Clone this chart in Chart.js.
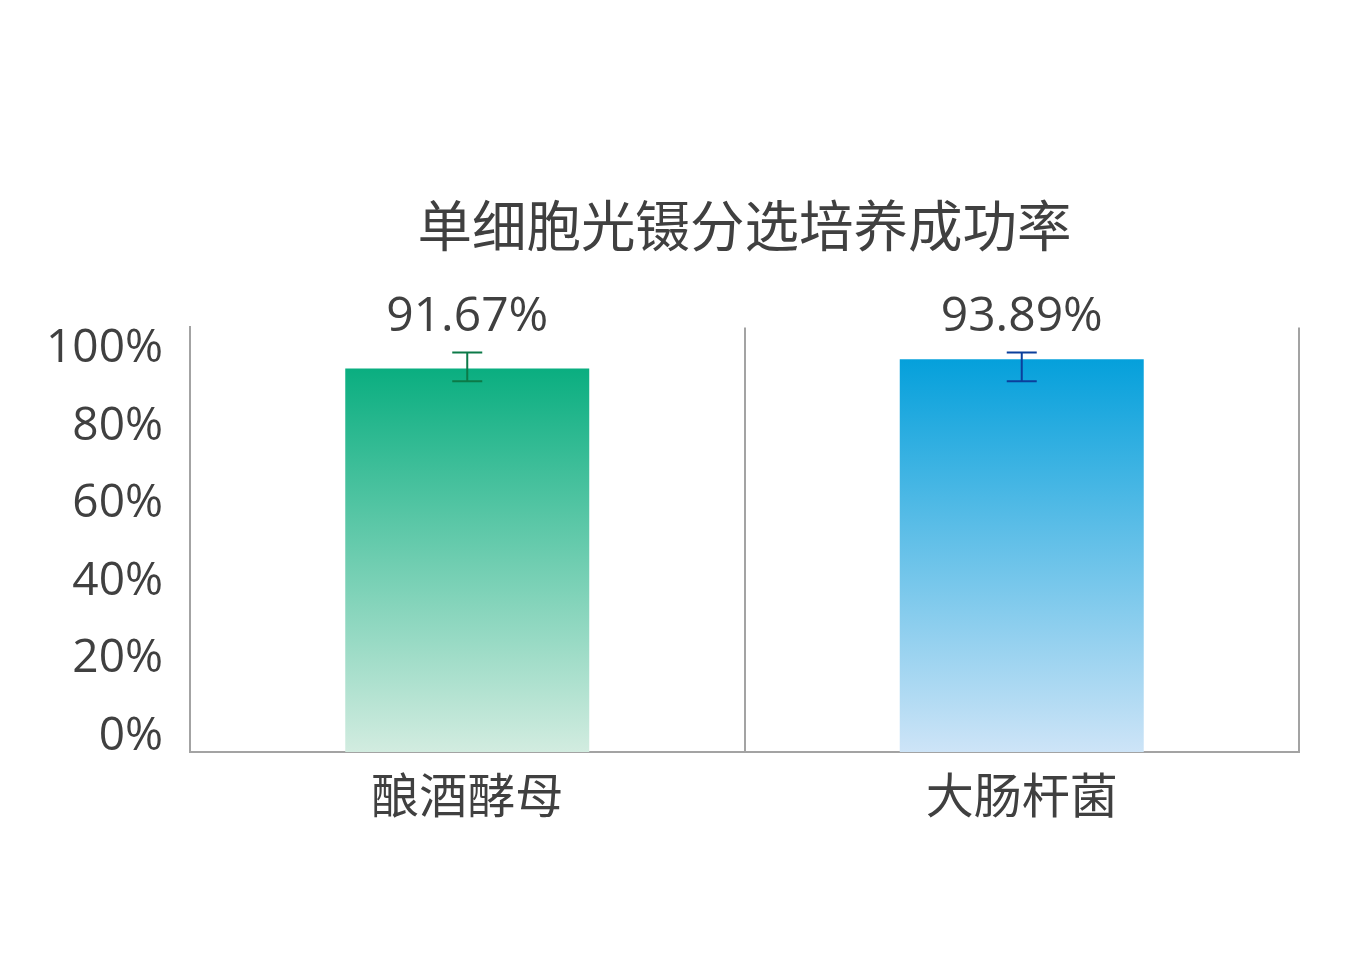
<!DOCTYPE html>
<html>
<head>
<meta charset="utf-8">
<script src="https://cdn.jsdelivr.net/npm/chart.js@4"></script>
<style>
    body { margin: 0; background: #fff; }
    #wrap { width: 1358px; height: 978px; }
</style>
</head>
<body>
<div id="wrap"><canvas id="successChart"></canvas></div>
<script>
const categories = ['酿酒酵母', '大肠杆菌'];
const successRates = [91.67, 93.89];
const errLow = [88.6, 88.6];
const errHigh = [95.5, 95.5];
const tickValues = [0, 20, 40, 60, 80, 100];

const topColors = ['#0aae80', '#05a0db'];
const bottomColors = ['#d2ece0', '#cde4f7'];
const errColors = ['#0c7a48', '#0b3f9c'];
const textColor = '#404040';
const axisColor = '#a3a3a3';
const fontFamily = "'Open Sans', 'Noto Sans CJK SC', sans-serif";

// gradient from the top of each bar down to the axis
function barGradient(ctx) {
    const chart = ctx.chart;
    const area = chart.chartArea;
    const i = ctx.dataIndex;
    if (!area || ctx.parsed == null) return topColors[i];
    const yTop = chart.scales.y.getPixelForValue(ctx.parsed.y);
    const g = chart.ctx.createLinearGradient(0, yTop, 0, area.bottom);
    g.addColorStop(0, topColors[i]);
    g.addColorStop(1, bottomColors[i]);
    return g;
}

const errorBars = {
    id: 'errorBars',
    afterDatasetsDraw(chart) {
        const c = chart.ctx;
        const yScale = chart.scales.y;
        const meta = chart.getDatasetMeta(0);
        meta.data.forEach((bar, i) => {
            const x = bar.x;
            const yLo = yScale.getPixelForValue(errLow[i]);
            const yHi = yScale.getPixelForValue(errHigh[i]);
            c.save();
            c.strokeStyle = errColors[i];
            c.lineWidth = 2;
            c.beginPath();
            c.moveTo(x, yLo); c.lineTo(x, yHi);
            c.moveTo(x - 15, yLo); c.lineTo(x + 15, yLo);
            c.moveTo(x - 15, yHi); c.lineTo(x + 15, yHi);
            c.stroke();

            c.fillStyle = textColor;
            c.font = '48px ' + fontFamily;
            c.textAlign = 'center';
            c.textBaseline = 'middle';
            c.fillText(successRates[i].toFixed(2) + '%', x, yHi - 35);
            c.restore();
        });
    }
};

const ctx = document.getElementById('successChart').getContext('2d');
const successChart = new Chart(ctx, {
    type: 'bar',
    data: {
        labels: categories,
        datasets: [{
            data: successRates,
            backgroundColor: barGradient,
            borderWidth: 0,
            barPercentage: 0.44,
            categoryPercentage: 1
        }]
    },
    options: {
        responsive: true,
        maintainAspectRatio: false,
        animation: false,
        layout: { padding: { left: 0, right: 59, top: 0, bottom: 0 } },
        scales: {
            x: {
                offset: true,
                grid: { display: true, offset: true, color: axisColor, lineWidth: 2, drawTicks: false },
                border: { display: true, color: axisColor, width: 2 },
                ticks: { color: textColor, padding: 19, font: { size: 48, family: fontFamily } },
                afterFit: (scale) => { scale.height = 226; }
            },
            y: {
                display: false,
                min: 0,
                max: 101.5
            },
            // tick labels sit on their own scale, spaced as in the picture
            yl: {
                position: 'left',
                min: -3.9,
                max: 105.65,
                grid: { display: false },
                border: { display: true, color: axisColor, width: 2 },
                ticks: {
                    stepSize: 20,
                    includeBounds: false,
                    padding: 19,
                    color: textColor,
                    font: { size: 46, family: fontFamily },
                    callback: (v) => tickValues.includes(v) ? v + '%' : ''
                },
                afterFit: (scale) => { scale.width = 190; }
            }
        },
        plugins: {
            legend: { display: false },
            tooltip: { enabled: false },
            title: {
                display: true,
                fullSize: false,
                text: '单细胞光镊分选培养成功率',
                color: textColor,
                font: { size: 54.5, weight: 'normal', family: fontFamily },
                padding: { top: 198, bottom: 64 }
            }
        }
    },
    plugins: [errorBars]
});
</script>
</body>
</html>
